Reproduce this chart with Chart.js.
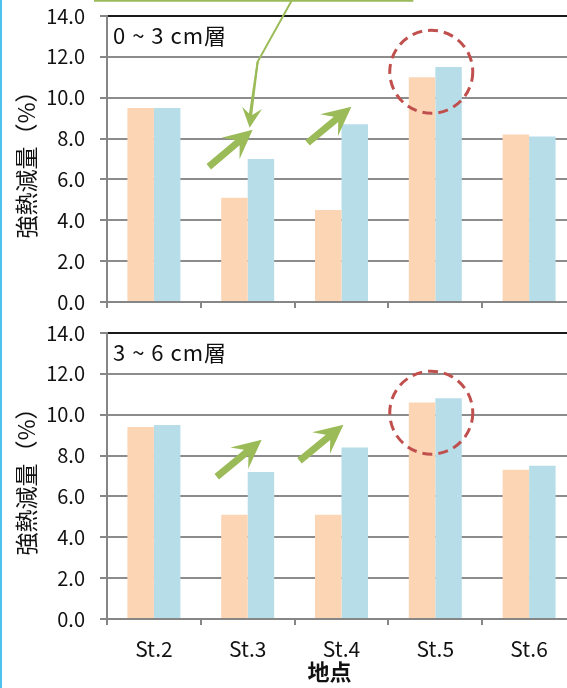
<!DOCTYPE html>
<html>
<head>
<meta charset="utf-8">
<script src="https://cdn.jsdelivr.net/npm/chart.js@4.4.1/dist/chart.umd.min.js"></script>
<style>
  html, body { margin: 0; padding: 0; background: #fff; overflow: hidden; }
  body { width: 567px; height: 688px; position: relative; }
  canvas { position: absolute; left: 0; }
  #upper { top: 0; }
  #lower { top: 316px; }
  #edge { position: absolute; left: 0; top: 0; width: 2px; height: 688px; background: #4cc2ec; z-index: 5; }
</style>
</head>
<body>
<canvas id="upper" width="580" height="320"></canvas>
<canvas id="lower" width="580" height="372"></canvas>
<div id="edge"></div>
<script>
// Stations along the x axis and loss-on-ignition values (%) for each layer
const stations = ['St.2', 'St.3', 'St.4', 'St.5', 'St.6'];
const upperOrange = [9.5, 5.1, 4.5, 11.0, 8.2];
const upperBlue   = [9.5, 7.0, 8.7, 11.5, 8.1];
const lowerOrange = [9.4, 5.1, 5.1, 10.6, 7.3];
const lowerBlue   = [9.5, 7.2, 8.4, 10.8, 7.5];

const upperLayer = '0 ~ 3 cm層';
const lowerLayer = '3 ~ 6 cm層';
const yTitle = '強熱減量（%）';
const xTitle = '地点';

// Annotation anchors in data space: [category index, value] pairs
const upperArrows = [[0.585, 6.62, 1.053, 8.43], [1.638, 7.79, 2.106, 9.56]];
const lowerArrows = [[0.670, 6.96, 1.149, 8.77], [1.553, 7.75, 2.021, 9.51]];
const upperRing = [2.957, 11.27];
const lowerRing = [2.957, 10.10];
// leader line from the note box down to the first arrow
const leaderPath = [[1.468, 14.75], [1.106, 11.76], [1.021, 8.53]];
const noteBox = [-0.628, 2.755, 14.75];

const FONT = '"Noto Sans CJK JP", "Noto Sans", sans-serif';
const GREEN = '#9BBB59';

function stealthArrow(ctx, x0, y0, x1, y1, shaft, headLen, headHalf, notch) {
  const dx = x1 - x0, dy = y1 - y0, L = Math.hypot(dx, dy);
  const ux = dx / L, uy = dy / L, nx = -uy, ny = ux;
  const bx = x1 - ux * headLen, by = y1 - uy * headLen;
  const jx = bx + ux * notch, jy = by + uy * notch;
  ctx.beginPath();
  ctx.moveTo(x0 + nx * shaft / 2, y0 + ny * shaft / 2);
  ctx.lineTo(jx + nx * shaft / 2, jy + ny * shaft / 2);
  ctx.lineTo(bx + nx * headHalf, by + ny * headHalf);
  ctx.lineTo(x1, y1);
  ctx.lineTo(bx - nx * headHalf, by - ny * headHalf);
  ctx.lineTo(jx - nx * shaft / 2, jy - ny * shaft / 2);
  ctx.lineTo(x0 - nx * shaft / 2, y0 - ny * shaft / 2);
  ctx.closePath();
  ctx.fill();
}

const decorPlugin = {
  id: 'decor',
  afterDatasetsDraw(chart, args, o) {
    const { ctx, chartArea: a, scales: { x, y } } = chart;
    const px = v => x.getPixelForValue(v);
    const py = v => y.getPixelForValue(v);
    ctx.save();

    // layer caption in the plot corner
    ctx.font = `22px ${FONT}`;
    ctx.letterSpacing = '1px';
    ctx.fillStyle = '#111';
    ctx.textAlign = 'left';
    ctx.textBaseline = 'middle';
    ctx.fillText(o.label, a.left + 6, a.top + 20);
    ctx.letterSpacing = '0px';

    // rising arrows
    ctx.fillStyle = GREEN;
    o.arrows.forEach(([i0, v0, i1, v1]) =>
      stealthArrow(ctx, px(i0), py(v0), px(i1), py(v1), 7, 29, 14, 9));

    // dashed ring
    ctx.strokeStyle = '#C0504D';
    ctx.lineWidth = 3;
    ctx.setLineDash([10, 6]);
    ctx.beginPath();
    ctx.arc(px(o.ring[0]), py(o.ring[1]), 41.5, 0, Math.PI * 2);
    ctx.stroke();
    ctx.setLineDash([]);

    // note box edge and leader line
    if (o.leader) {
      ctx.strokeStyle = GREEN;
      ctx.lineWidth = 2;
      const [l, r, v] = noteBox;
      ctx.beginPath();
      ctx.moveTo(px(l), -5);
      ctx.lineTo(px(l), py(v));
      ctx.lineTo(px(r), py(v));
      ctx.lineTo(px(r), -5);
      ctx.stroke();
      const pts = leaderPath.map(([i, v2]) => [px(i), py(v2)]);
      ctx.beginPath();
      ctx.moveTo(pts[0][0], pts[0][1]);
      ctx.lineTo(pts[1][0], pts[1][1]);
      ctx.lineTo(pts[2][0], pts[2][1] - 12);
      ctx.stroke();
      ctx.fillStyle = GREEN;
      stealthArrow(ctx, pts[1][0], pts[1][1], pts[2][0], pts[2][1], 2, 20, 10, 7);
    }

    // x axis title
    if (o.xTitle) {
      ctx.font = `bold 22px ${FONT}`;
      ctx.fillStyle = '#111';
      ctx.textAlign = 'center';
      ctx.textBaseline = 'middle';
      ctx.fillText(o.xTitle, (a.left + a.right) / 2 - 12, x.bottom - 16);
    }
    ctx.restore();
  }
};

function makeChart(id, orange, blue, cfg) {
  return new Chart(document.getElementById(id), {
    type: 'bar',
    data: {
      labels: stations,
      datasets: [
        { label: 'A', data: orange, backgroundColor: '#FCD5B5', borderWidth: 0 },
        { label: 'B', data: blue, backgroundColor: '#B7DEE8', borderWidth: 0 }
      ]
    },
    options: {
      responsive: false,
      animation: false,
      devicePixelRatio: 1,
      layout: { padding: { left: 0, right: 4, top: cfg.padTop, bottom: cfg.padBottom } },
      datasets: { bar: { categoryPercentage: 0.565, barPercentage: 1 } },
      plugins: { legend: { display: false }, tooltip: { enabled: false }, decor: cfg.decor },
      scales: {
        x: {
          grid: { drawOnChartArea: false, drawTicks: true, tickLength: 6, color: '#868686', lineWidth: 2 },
          border: { color: '#868686', width: 2 },
          ticks: { display: cfg.showX, font: { family: FONT, size: 21 }, color: '#111', padding: 11 },
          afterFit: s => { s.height = cfg.xHeight; s.paddingLeft = 0; s.paddingRight = 0; }
        },
        y: {
          min: 0, max: 14,
          ticks: { stepSize: 2, callback: v => v.toFixed(1), font: { family: FONT, size: 20 }, color: '#111', padding: 15 },
          grid: {
            color: c => (c.tick && c.tick.value === 14 ? '#1a1a1a' : '#8c8c8c'),
            lineWidth: 2, tickLength: 7, tickColor: '#868686'
          },
          border: { color: '#868686', width: 2 },
          title: { display: true, text: yTitle, font: { family: FONT, size: 23 }, color: '#111', padding: { top: 12, bottom: 0 } },
          afterFit: s => { s.width = 107; s.paddingTop = 0; s.paddingBottom = 0; }
        }
      }
    },
    plugins: [decorPlugin]
  });
}

makeChart('upper', upperOrange, upperBlue, {
  padTop: 16, padBottom: 12, showX: false, xHeight: 6,
  decor: { label: upperLayer, arrows: upperArrows, ring: upperRing, leader: true }
});
makeChart('lower', lowerOrange, lowerBlue, {
  padTop: 17, padBottom: 0, showX: true, xHeight: 69,
  decor: { label: lowerLayer, arrows: lowerArrows, ring: lowerRing, xTitle: xTitle }
});
</script>
</body>
</html>
